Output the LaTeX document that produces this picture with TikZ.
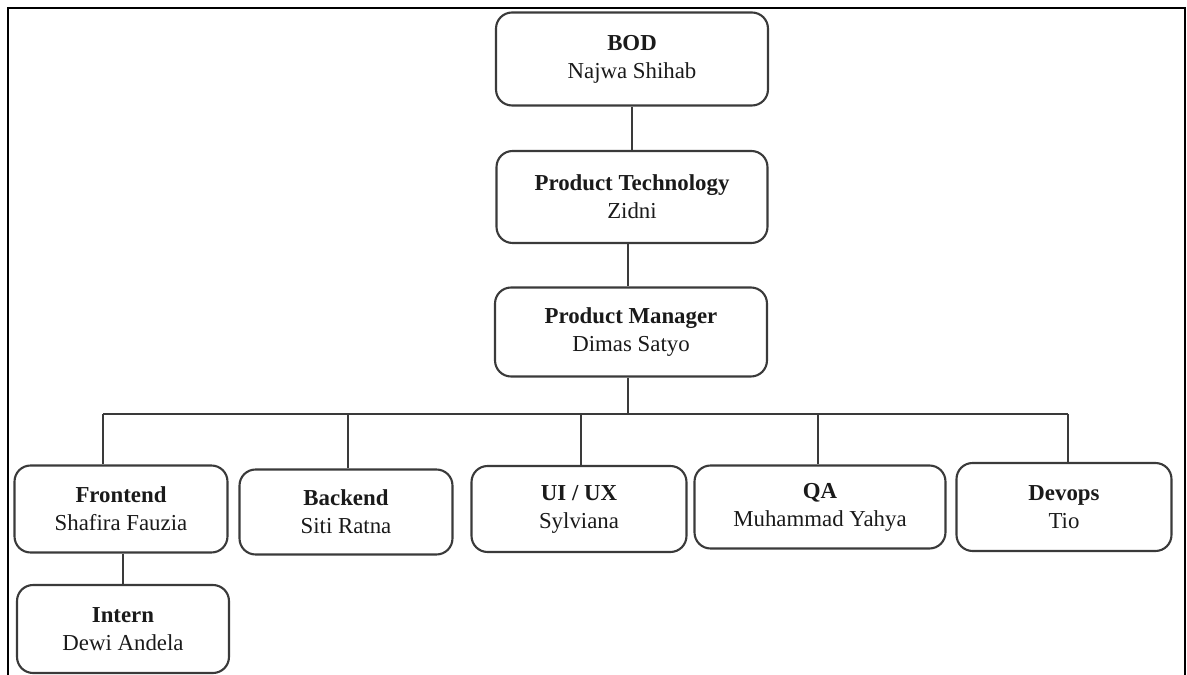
\documentclass[tikz,border=0pt]{standalone}
\usepackage{fontspec}
\setmainfont{Liberation Serif}
\usetikzlibrary{positioning}
\definecolor{boxline}{HTML}{3A3A3A}
\definecolor{boxtext}{HTML}{1A1A1A}
\tikzset
{
    orgbox/.style  = {rounded corners=0.32cm, draw=boxline, line width=1.2pt, align=center, text=boxtext, font=\fontsize{13}{16}\selectfont, inner sep=0pt},
    orgline/.style = {draw=boxline, line width=1.2pt}
}
\newcommand{\role}[2]{\textbf{#1} \\ #2}

\begin{document}
\begin{tikzpicture}[x=0.02cm, y=-0.02cm]
\useasboundingbox (0,0) rectangle (1187,675);
\draw[line width=1.6pt] (8,700) -- (8,8) -- (1185,8) -- (1185,700);

\node (bod)[orgbox, minimum width=5.44cm, minimum height=1.86cm] 		at (632,59) 	{\role{BOD}{Najwa Shihab}};
\node (tech)[orgbox, minimum width=5.42cm, minimum height=1.84cm] 		at (632,197) 	{\role{Product Technology}{Zidni}};
\node (pm)[orgbox, minimum width=5.44cm, minimum height=1.78cm] 		at (631,332) 	{\role{Product Manager}{Dimas Satyo}};

\node (front)[orgbox, minimum width=4.26cm, minimum height=1.74cm] 	at (121,509) 	{\role{Frontend}{Shafira Fauzia}};
\node (back)[orgbox, minimum width=4.26cm, minimum height=1.70cm] 		at (346,512) 	{\role{Backend}{Siti Ratna}};
\node (uiux)[orgbox, minimum width=4.30cm, minimum height=1.72cm] 		at (579,509) 	{\role{UI / UX}{Sylviana}};
\node (qa)[orgbox, minimum width=5.02cm, minimum height=1.66cm] 		at (820,507) 	{\role{QA}{Muhammad Yahya}};
\node (devops)[orgbox, minimum width=4.30cm, minimum height=1.76cm] 	at (1064,507) 	{\role{Devops}{Tio}};
\node (intern)[orgbox, minimum width=4.24cm, minimum height=1.76cm] 	at (123,629) 	{\role{Intern}{Dewi Andela}};

\coordinate (bar) 	at (628,414);
\coordinate (b1) 	at (103,414);
\coordinate (b2) 	at (348,414);
\coordinate (b3) 	at (581,414);
\coordinate (b4) 	at (818,414);
\coordinate (b5) 	at (1068,414);

\draw[orgline] (bod) 		-- (bod |- tech.north);
\draw[orgline] (tech.south -| bar) 	-- (bar |- pm.north);
\draw[orgline] (pm.south -| bar) 	-- (bar);
\draw[orgline] (b1) 		-- (b5);
\draw[orgline] (b1) 		-- (b1 |- front.north);
\draw[orgline] (b2) 		-- (b2 |- back.north);
\draw[orgline] (b3) 		-- (b3 |- uiux.north);
\draw[orgline] (b4) 		-- (b4 |- qa.north);
\draw[orgline] (b5) 		-- (b5 |- devops.north);
\draw[orgline] (front.south -| intern) -- (intern);

\end{tikzpicture}
\end{document}
